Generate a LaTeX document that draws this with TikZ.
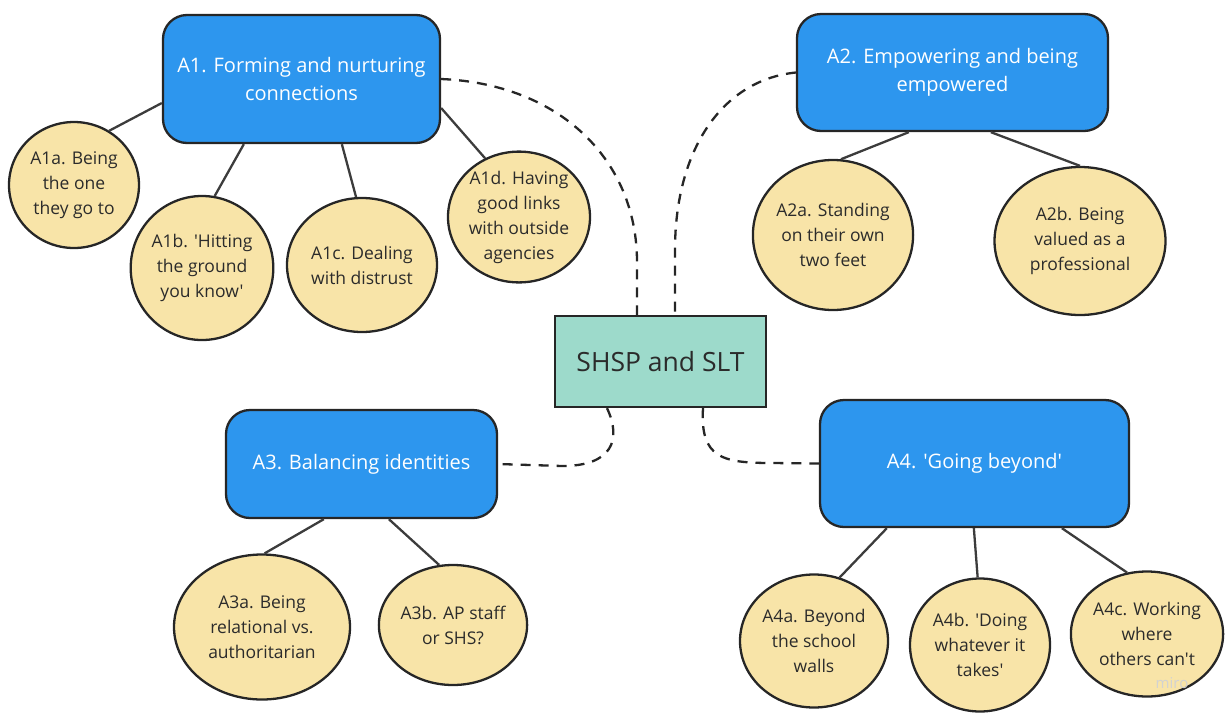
\documentclass[tikz,border=0pt]{standalone}
\usepackage{fontspec}
\setmainfont{Open Sans}[Ligatures=TeXOff]
\usetikzlibrary{shapes.geometric,calc}
\definecolor{themeblue}{HTML}{2D96EE}
\definecolor{subyellow}{HTML}{F8E4A8}
\definecolor{coreteal}{HTML}{9DDACB}
\definecolor{edgedark}{HTML}{262626}
\definecolor{txtdark}{HTML}{2B2B2B}
\tikzset{
  theme/.style={draw=edgedark, line width=2.3pt, fill=themeblue, rounded corners=24pt,
    text=white, font=\fontsize{20}{27.5}\selectfont, align=center, inner sep=0pt},
  sub/.style={ellipse, draw=edgedark, line width=2.3pt, fill=subyellow, inner sep=0pt,
    text=txtdark, font=\fontsize{17.5}{25}\selectfont, align=center},
  core/.style={draw=edgedark, line width=2.3pt, fill=coreteal, inner sep=0pt,
    text=txtdark, font=\fontsize{26.5}{30}\selectfont},
  link/.style={draw=edgedark!90, line width=2.3pt},
  dashlink/.style={draw=edgedark, line width=2.3pt, dash pattern=on 10pt off 8pt}
}
\begin{document}
\begin{tikzpicture}[x=1pt,y=-1pt]
\useasboundingbox (0,0) rectangle (1226,713);

% central node
\node[core, minimum width=211pt, minimum height=91pt] (S) at (660.5,361.5) {SHSP and SLT};

% theme boxes
\node[theme, minimum width=277pt, minimum height=128pt] (A1) at (301.5,79) {A1. Forming and nurturing\\connections};
\node[theme, minimum width=311pt, minimum height=117pt] (A2) at (952.5,72.5) {A2. Empowering and being\\empowered};
\node[theme, minimum width=271pt, minimum height=108pt] (A3) at (361.5,464) {A3. Balancing identities};
\node[theme, minimum width=309pt, minimum height=127pt] (A4) at (974.5,463.5) {A4. 'Going beyond'};

% sub-themes
\node[sub, minimum width=130pt, minimum height=126pt] (A1a) at (74,185) {A1a. Being\\the one\\they go to};
\node[sub, minimum width=138pt, minimum height=144pt] (A1b) at (202,268) {A1b. 'Hitting\\the ground\\you know'};
\node[sub, minimum width=150pt, minimum height=134pt] (A1c) at (362,265) {A1c. Dealing\\with distrust};
\node[sub, minimum width=142pt, minimum height=130pt] (A1d) at (519,217) {A1d. Having\\good links\\with outside\\agencies};
\node[sub, minimum width=147pt, minimum height=150pt] (A2a) at (833,235) {A2a. Standing\\on their own\\two feet};
\node[sub, minimum width=171pt, minimum height=148pt] (A2b) at (1080,241) {A2b. Being\\valued as a\\professional};
\node[sub, minimum width=176pt, minimum height=145pt] (A3a) at (262,627) {A3a. Being\\relational vs.\\authoritarian};
\node[sub, minimum width=147pt, minimum height=120pt] (A3b) at (453,625) {A3b. AP staff\\or SHS?};
\node[sub, minimum width=148pt, minimum height=133pt] (A4a) at (814,641) {A4a. Beyond\\the school\\walls};
\node[sub, minimum width=140pt, minimum height=133pt] (A4b) at (980,645) {A4b. 'Doing\\whatever it\\takes'};
\node[sub, minimum width=149pt, minimum height=125pt] (A4c) at (1147,634) {A4c. Working\\where\\others can't};

% solid links from themes to sub-themes
\draw[link] ([yshift=-24pt]A1.west) -- (A1a.57);
\draw[link] ([xshift=82pt]A1.south west) -- (A1b.80);
\draw[link] ([xshift=180pt]A1.south west) -- (A1c.95);
\draw[link] ([yshift=-29pt]A1.east) -- (A1d.120);
\draw[link] ([xshift=113pt]A2.south west) -- (A2a.84);
\draw[link] ([xshift=195pt]A2.south west) -- (A2b.90);
\draw[link] ([xshift=99pt]A3.south west) -- (A3a.88);
\draw[link] ([xshift=164pt]A3.south west) -- (A3b.103);
\draw[link] ([xshift=68pt]A4.south west) -- (A4a.68);
\draw[link] ([xshift=155pt]A4.south west) -- (A4b.92);
\draw[link] ([xshift=243pt]A4.south west) -- (A4c.108);

% dashed links to the central node
\draw[dashlink] (A1.east) .. controls (560,84) and (637,160) .. (637,262) -- ([xshift=-23.5pt]S.north);
\draw[dashlink] (A2.west) .. controls (722,80) and (675,150) .. (675,250) -- ([xshift=14.5pt]S.north);
\draw[dashlink] ([xshift=-53.5pt]S.south) .. controls (622,440) and (612,466) .. (562,466) -- (A3.east);
\draw[dashlink] ([xshift=42.5pt]S.south) .. controls (700,458) and (722,463) .. (772,463) -- (A4.west);

% watermark
\node[text=gray!35, font=\fontsize{15}{18}\selectfont] (wm) at (1172,683) {miro};
\end{tikzpicture}
\end{document}
